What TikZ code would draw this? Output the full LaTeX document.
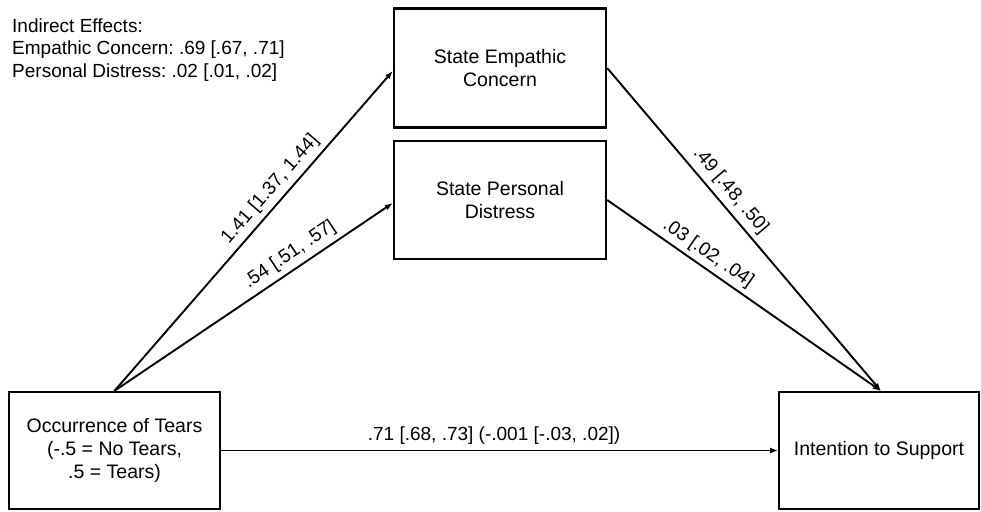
\documentclass[tikz,border=0pt]{standalone}
\usepackage{fontspec}
\setmainfont{Liberation Sans}
\frenchspacing
\usetikzlibrary{arrows.meta}
\begin{document}
\begin{tikzpicture}[x=1pt,y=-1pt,
  box/.style={draw, line width=2.4pt, rectangle, align=center, font=\fontsize{19.5}{23}\selectfont, inner sep=0pt},
  conn/.style={line width=1.9pt, -{Latex[length=8pt,width=6pt]}},
  lab/.style={font=\fontsize{19}{22}\selectfont, sloped, inner sep=0pt},
  note/.style={font=\fontsize{19}{22}\selectfont, anchor=base west, inner sep=0pt}]
\useasboundingbox (0,0) rectangle (981,511);
\fill[white] (0,0) rectangle (981,511);
\node[note] (ie1) at (12,33) {Indirect Effects:};
\node[note] (ie2) at (12,55) {Empathic Concern: .69 [.67, .71]};
\node[note] (ie3) at (12,77) {Personal Distress: .02 [.01, .02]};
\node[box, minimum width=212pt, minimum height=119pt] (sec) at (500,68) {State Empathic\\Concern};
\node[box, minimum width=212pt, minimum height=118pt] (spd) at (500,200) {State Personal\\Distress};
\node[box, minimum width=211pt, minimum height=117pt] (oot) at (114.5,450.5) {Occurrence of Tears\\(-.5 = No Tears,\\.5 = Tears)};
\node[box, line width=2pt, minimum width=200pt, minimum height=117pt] (its) at (879,450.5) {Intention to Support};
\draw[conn] (oot.north) -- ([yshift=-3pt]sec.west)
  node[lab, pos=0.6, above=5pt] {1.41 [1.37, 1.44]};
\draw[conn] (oot.north) -- ([yshift=-3pt]spd.west)
  node[lab, pos=0.66, above=5pt] {.54 [.51, .57]};
\draw[conn] (sec.east) -- ([xshift=2pt]its.north)
  node[lab, pos=0.41, above=5pt] {.49 [.48, .50]};
\draw[conn] (spd.east) -- ([xshift=2pt]its.north)
  node[lab, pos=0.34, above=4pt] {.03 [.02, .04]};
\draw[conn] (oot.east) -- (its.west)
  node[lab, pos=0.49, above=5pt] {.71 [.68, .73] (-.001 [-.03, .02])};
\end{tikzpicture}
\end{document}
